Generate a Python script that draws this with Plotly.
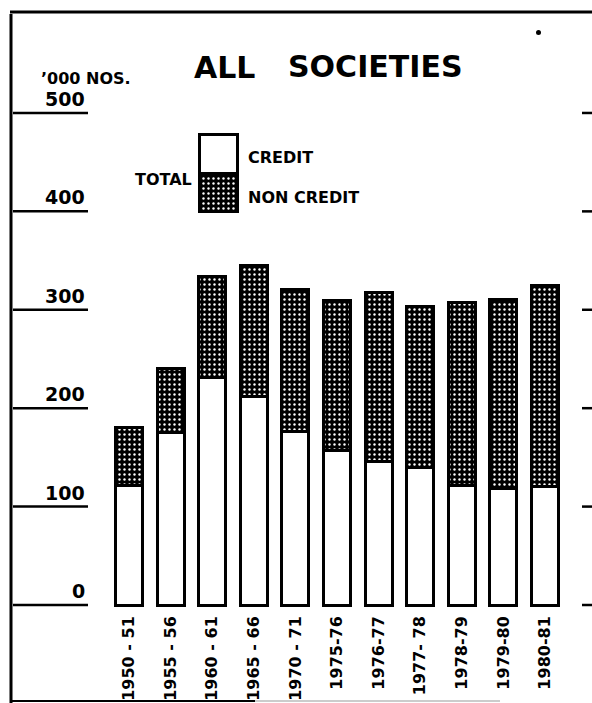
import plotly.graph_objects as go

# ---- data (thousand numbers) ----
years = ["1950 - 51", "1955 - 56", "1960 - 61", "1965 - 66", "1970 - 71",
         "1975-76", "1976-77", "1977- 78", "1978-79", "1979-80", "1980-81"]
total = [180, 240, 334, 345, 321, 309, 318, 303, 307, 310, 325]
credit = [121, 175, 231, 212, 176, 157, 146, 140, 121, 118, 120]
non_credit = [t - c for t, c in zip(total, credit)]
y_ticks = [0, 100, 200, 300, 400, 500]
legend_parts = [1, 1]  # swatch: non credit (bottom), credit (top)

W, H = 592, 703
FONT = "DejaVu Sans"


def px(x):
    return x / W


def py(y):
    return 1 - y / H


dots = dict(shape=".", bgcolor="black", fgcolor="white",
            size=5, solidity=0.18, fillmode="replace")

fig = go.Figure()

fig.add_trace(go.Bar(
    x=years, y=credit, name="CREDIT",
    marker=dict(color="white", line=dict(color="black", width=3)),
))
fig.add_trace(go.Bar(
    x=years, y=non_credit, name="NON CREDIT",
    marker=dict(color="black", line=dict(color="black", width=3), pattern=dots),
))

# legend swatch (own small axes)
fig.add_trace(go.Bar(
    x=[0], y=[legend_parts[0]], width=1, xaxis="x2", yaxis="y2",
    marker=dict(color="black", line=dict(color="black", width=3), pattern=dots),
))
fig.add_trace(go.Bar(
    x=[0], y=[legend_parts[1]], width=1, xaxis="x2", yaxis="y2",
    marker=dict(color="white", line=dict(color="black", width=3)),
))

shapes = []
annotations = []
for v in y_ticks:
    shapes.append(dict(type="line", xref="paper", yref="y", x0=px(13), x1=px(88),
                       y0=v, y1=v, line=dict(color="black", width=2.5)))
    shapes.append(dict(type="line", xref="paper", yref="y", x0=px(582), x1=px(592),
                       y0=v, y1=v, line=dict(color="black", width=2.5)))
    annotations.append(dict(text=str(v), xref="paper", yref="y", x=px(87), y=v,
                            xanchor="right", yanchor="bottom", yshift=1, showarrow=False,
                            font=dict(family=FONT, size=19, color="black", weight="bold")))

# frame lines
shapes += [
    dict(type="line", xref="paper", yref="paper", x0=px(11), x1=px(11), y0=py(14), y1=py(703),
         line=dict(color="black", width=3)),
    dict(type="line", xref="paper", yref="paper", x0=px(10), x1=px(592), y0=py(12), y1=py(12),
         line=dict(color="black", width=3)),
    dict(type="line", xref="paper", yref="paper", x0=px(11), x1=px(255), y0=py(701), y1=py(701),
         line=dict(color="black", width=2)),
    dict(type="line", xref="paper", yref="paper", x0=px(255), x1=px(500), y0=py(701), y1=py(701),
         line=dict(color="#999999", width=1)),
    dict(type="circle", xref="paper", yref="paper", x0=px(536), x1=px(541), y0=py(30), y1=py(35),
         fillcolor="black", line=dict(color="black", width=0)),
]

def txt(text, x, y, size, xanchor="left"):
    annotations.append(dict(text=text, xref="paper", yref="paper", x=px(x), y=py(y),
                            xanchor=xanchor, yanchor="middle", showarrow=False,
                            font=dict(family=FONT, size=size, color="black", weight="bold")))

txt("ALL", 192, 67, 30)
txt("SOCIETIES", 286, 66, 30)
txt("\u2019000 NOS.", 39, 79, 16)
txt("TOTAL", 194, 179, 16, xanchor="right")
txt("CREDIT", 246, 158, 16)
txt("NON CREDIT", 246, 197, 16)

fig.update_layout(
    width=W, height=H,
    margin=dict(l=0, r=0, t=0, b=0, pad=0),
    paper_bgcolor="white", plot_bgcolor="rgba(0,0,0,0)",
    barmode="stack", bargap=0.35, showlegend=False,
    xaxis=dict(domain=[px(12), px(590)], range=[-2.8125, 11.08],
               showgrid=False, zeroline=False, showline=False, ticks="",
               tickangle=-90, ticklabelstandoff=4, automargin=False,
               tickfont=dict(family=FONT, size=16, color="black", weight="bold")),
    yaxis=dict(domain=[py(608), py(12)], range=[-3.05, 602.6],
               visible=False, showgrid=False, zeroline=False),
    xaxis2=dict(domain=[px(196), px(241)], range=[-0.6, 0.6], anchor="y2",
                visible=False, showgrid=False, zeroline=False),
    yaxis2=dict(domain=[py(215), py(131)], range=[-0.08, 2.08], anchor="x2",
                visible=False, showgrid=False, zeroline=False),
    shapes=shapes, annotations=annotations,
)

fig.write_html("out.html", config={"displayModeBar": False},
               post_script="document.body.style.margin='0';document.body.style.overflow='hidden';")
